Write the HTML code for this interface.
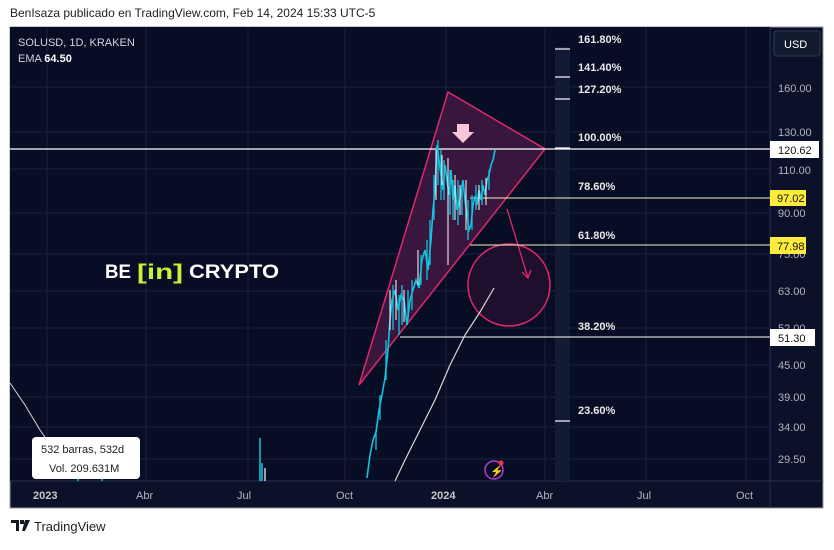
<!DOCTYPE html>
<html><head><meta charset="utf-8"><style>
body{margin:0;background:#fff;width:834px;height:545px;overflow:hidden;font-family:"Liberation Sans",sans-serif}
svg text{font-family:"Liberation Sans",sans-serif}
</style></head><body>
<svg width="834" height="545" xmlns="http://www.w3.org/2000/svg">
<rect width="834" height="545" fill="#fff"/>
<text x="10" y="17" font-size="12" fill="#222">BenIsaza publicado en TradingView.com, Feb 14, 2024 15:33 UTC-5</text>
<rect x="10" y="27" width="813" height="481" fill="#0b1129" stroke="#9598a1" stroke-width="1"/>
<rect x="10" y="27" width="760" height="454" fill="#070d24"/>
<g stroke="#18213b" stroke-width="1">
<line x1="146" y1="27" x2="146" y2="481"/><line x1="248" y1="27" x2="248" y2="481"/><line x1="345" y1="27" x2="345" y2="481"/><line x1="446" y1="27" x2="446" y2="481"/><line x1="545" y1="27" x2="545" y2="481"/><line x1="646" y1="27" x2="646" y2="481"/><line x1="746" y1="27" x2="746" y2="481"/><line x1="47" y1="27" x2="47" y2="481"/>
<line x1="10" y1="87" x2="770" y2="87"/><line x1="10" y1="132" x2="770" y2="132"/><line x1="10" y1="169" x2="770" y2="169"/><line x1="10" y1="213" x2="770" y2="213"/><line x1="10" y1="254" x2="770" y2="254"/><line x1="10" y1="291" x2="770" y2="291"/><line x1="10" y1="328" x2="770" y2="328"/><line x1="10" y1="365" x2="770" y2="365"/><line x1="10" y1="397" x2="770" y2="397"/><line x1="10" y1="427" x2="770" y2="427"/><line x1="10" y1="459" x2="770" y2="459"/>
</g>
<line x1="770" y1="27" x2="770" y2="508" stroke="#2a3150"/>
<line x1="10" y1="481" x2="823" y2="481" stroke="#2a3150"/>
<rect x="555" y="47" width="15" height="434" fill="#131a33"/>
<polygon points="359,385 448,92 545,149" fill="#4a1a45" fill-opacity="0.75" stroke="#e0286a" stroke-width="1.5"/>
<circle cx="509" cy="285" r="41" fill="#1f0f2e" stroke="#e0286a" stroke-width="1.5"/>
<line x1="507" y1="209" x2="528" y2="278" stroke="#e0286a" stroke-width="1.3"/>
<polyline points="522,272 528,278 531,270" fill="none" stroke="#e0286a" stroke-width="1.3"/>
<polygon points="457,124 469,124 469,132 474,132 463,143 452,132 457,132" fill="#f9c8d8"/>
<line x1="10" y1="149" x2="770" y2="149" stroke="#fff" stroke-width="1.2"/>
<line x1="470" y1="198" x2="770" y2="198" stroke="#f4f0c0" stroke-width="1"/>
<line x1="470" y1="245" x2="770" y2="245" stroke="#f4f0c0" stroke-width="1"/>
<line x1="400" y1="337" x2="770" y2="337" stroke="#fff" stroke-width="1"/>
<g stroke="#fff" stroke-width="1.2"><line x1="555" y1="49" x2="570" y2="49"/><line x1="555" y1="77" x2="570" y2="77"/><line x1="555" y1="99" x2="570" y2="99"/><line x1="555" y1="421" x2="570" y2="421"/><line x1="555" y1="148" x2="570" y2="148"/></g>
<g font-size="11" fill="#e8e8e8" font-weight="bold">
<text x="578" y="43">161.80%</text><text x="578" y="71">141.40%</text><text x="578" y="93">127.20%</text><text x="578" y="141">100.00%</text><text x="578" y="190">78.60%</text><text x="578" y="239">61.80%</text><text x="578" y="330">38.20%</text><text x="578" y="414">23.60%</text>
</g>
<g stroke="#12c4e0" stroke-width="1.6" fill="none">
<polyline points="367,478 370,455 373,440 376,432 379,410 382,395 385,378 388,350 390,320 392,300 395,290 398,310 401,295 404,300 407,325 410,300 413,290 416,280 419,288 422,260 425,250 428,270 431,240 433,210 435,190 437,145 439,160 441,175 443,190 445,165 447,180 449,195 451,170 453,200 455,185 457,210 459,205 461,192 463,180 465,200 467,215 469,230 471,225 473,205 475,196 477,205 479,190 481,200 483,185 485,195 487,180 489,175 491,165 493,160 495,150"/>
</g>
<g stroke="#12c4e0" stroke-width="1.3">
<line x1="376" y1="430" x2="376" y2="450"/><line x1="380" y1="395" x2="380" y2="420"/><line x1="386" y1="340" x2="386" y2="380"/><line x1="393" y1="285" x2="393" y2="330"/><line x1="399" y1="295" x2="399" y2="335"/><line x1="402" y1="285" x2="402" y2="325"/><line x1="408" y1="290" x2="408" y2="320"/><line x1="412" y1="280" x2="412" y2="310"/><line x1="421" y1="255" x2="421" y2="285"/><line x1="427" y1="240" x2="427" y2="280"/><line x1="430" y1="220" x2="430" y2="265"/><line x1="434" y1="175" x2="434" y2="220"/><line x1="438" y1="140" x2="438" y2="185"/><line x1="441" y1="150" x2="441" y2="200"/><line x1="444" y1="160" x2="444" y2="200"/><line x1="450" y1="170" x2="450" y2="215"/><line x1="453" y1="180" x2="453" y2="220"/><line x1="458" y1="180" x2="458" y2="225"/><line x1="462" y1="185" x2="462" y2="215"/><line x1="468" y1="200" x2="468" y2="240"/><line x1="472" y1="195" x2="472" y2="230"/><line x1="476" y1="185" x2="476" y2="210"/><line x1="482" y1="180" x2="482" y2="205"/><line x1="489" y1="170" x2="489" y2="190"/>
</g>
<g stroke="#fff" stroke-width="1">
<line x1="390" y1="290" x2="390" y2="330"/><line x1="396" y1="280" x2="396" y2="320"/><line x1="404" y1="290" x2="404" y2="322"/><line x1="418" y1="250" x2="418" y2="285"/><line x1="436" y1="150" x2="436" y2="200"/><line x1="448" y1="158" x2="448" y2="265"/><line x1="455" y1="175" x2="455" y2="220"/><line x1="466" y1="180" x2="466" y2="230"/><line x1="479" y1="185" x2="479" y2="210"/><line x1="486" y1="178" x2="486" y2="205"/><line x1="460" y1="185" x2="460" y2="215"/><line x1="442" y1="155" x2="442" y2="185"/>
</g>
<g stroke="#12c4e0" stroke-width="1.5"><line x1="260" y1="438" x2="260" y2="481"/><line x1="262" y1="463" x2="262" y2="481"/><line x1="78" y1="478" x2="78" y2="481"/><line x1="102" y1="476" x2="102" y2="481"/></g>
<line x1="265" y1="468" x2="265" y2="481" stroke="#fff" stroke-width="1.2"/>
<polyline points="10,383 25,405 40,430 47,440" fill="none" stroke="#d8d8d8" stroke-width="1"/>
<polyline points="395,481 405,460 420,430 435,400 450,365 465,335 480,312 494,288" fill="none" stroke="#d8d8d8" stroke-width="1.2"/>
<text x="105" y="278" font-size="19" font-weight="bold" fill="#fff" textLength="26" lengthAdjust="spacingAndGlyphs">BE</text>
<text x="137" y="279" font-size="21" font-weight="bold" fill="#c6f432" textLength="46" lengthAdjust="spacingAndGlyphs">[in]</text>
<text x="189" y="278" font-size="19" font-weight="bold" fill="#fff" textLength="90" lengthAdjust="spacingAndGlyphs">CRYPTO</text>
<circle cx="494" cy="470" r="9" fill="none" stroke="#b93ad6" stroke-width="1.5"/>
<text x="490" y="475" font-size="11" fill="#b93ad6">⚡</text><circle cx="501" cy="463" r="2.5" fill="#f23645"/>
<text x="18" y="46" font-size="11" fill="#d1d4dc">SOLUSD, 1D, KRAKEN</text>
<text x="18" y="62" font-size="11" fill="#d1d4dc">EMA <tspan font-weight="bold" fill="#fff">64.50</tspan></text>
<rect x="774" y="31" width="46" height="25" rx="3" fill="#121a30" stroke="#2f3650"/>
<text x="784" y="48" font-size="11" fill="#fff">USD</text>
<g font-size="11" fill="#b2b5be">
<text x="778" y="92">160.00</text><text x="778" y="136">130.00</text><text x="778" y="174">110.00</text><text x="778" y="217">90.00</text><text x="778" y="258">75.00</text><text x="778" y="295">63.00</text><text x="778" y="332">52.00</text><text x="778" y="369">45.00</text><text x="778" y="401">39.00</text><text x="778" y="431">34.00</text><text x="778" y="463">29.50</text>
</g>
<rect x="770" y="141" width="49" height="17" fill="#fff"/><text x="778" y="154" font-size="11" fill="#111">120.62</text>
<rect x="770" y="190" width="36" height="16" fill="#ffeb3b"/><text x="777" y="202" font-size="11" fill="#111">97.02</text>
<rect x="770" y="237" width="36" height="17" fill="#ffeb3b"/><text x="777" y="250" font-size="11" fill="#111">77.98</text>
<rect x="770" y="329" width="45" height="17" fill="#fff"/><text x="778" y="342" font-size="11" fill="#111">51.30</text>
<g font-size="11" fill="#b2b5be">
<text x="33" y="499" font-weight="bold" fill="#c8c8cc">2023</text><text x="136" y="499">Abr</text><text x="237" y="499">Jul</text><text x="336" y="499">Oct</text><text x="431" y="499" font-weight="bold" fill="#c8c8cc">2024</text><text x="536" y="499">Abr</text><text x="637" y="499">Jul</text><text x="736" y="499">Oct</text>
</g>
<rect x="32" y="437" width="108" height="42" rx="4" fill="#fff"/>
<text x="41" y="453" font-size="11" fill="#222">532 barras, 532d</text>
<text x="49" y="472" font-size="11" fill="#222">Vol. 209.631M</text>
<path d="M11 520h8v11h-3v-8h-5z M20 520h4v4h-4z M25 520h5l-5 11h-3z" fill="#131722"/>
<text x="34" y="531" font-size="13" fill="#222">TradingView</text>
</svg>
</body></html>
